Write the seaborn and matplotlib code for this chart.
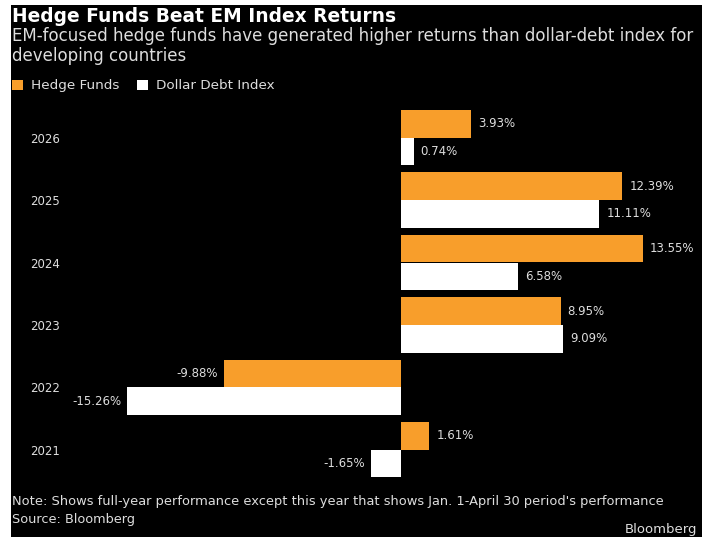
import matplotlib
matplotlib.use("Agg")
import matplotlib.pyplot as plt
import seaborn as sns
import pandas as pd
from matplotlib.patches import Rectangle, Patch

years = ["2026", "2025", "2024", "2023", "2022", "2021"]
hedge_funds = [3.93, 12.39, 13.55, 8.95, -9.88, 1.61]
dollar_debt = [0.74, 11.11, 6.58, 9.09, -15.26, -1.65]
series_names = ["Hedge Funds", "Dollar Debt Index"]
colors = ["#f89e2b", "#ffffff"]

df = pd.DataFrame({
    "Year": years * 2,
    "Return": hedge_funds + dollar_debt,
    "Series": [series_names[0]] * len(years) + [series_names[1]] * len(years),
})

W, H = 702, 537
fig = plt.figure(figsize=(W / 100, H / 100), dpi=100)
fig.patch.set_facecolor("white")
fig.add_artist(Rectangle((11 / W, 0), 1 - 11 / W, (H - 5) / H,
                         transform=fig.transFigure, facecolor="black",
                         edgecolor="none", zorder=0))

ax = fig.add_axes([11 / W, 47 / H, 691 / W, 390 / H])
ax.set_facecolor("black")
sns.barplot(data=df, y="Year", x="Return", hue="Series", order=years,
            hue_order=series_names, palette=colors, orient="h",
            width=0.89, saturation=1, ax=ax, legend=False)

zero_px = 400.5
scale = 17.9
ax.set_xlim((11 - zero_px) / scale, (702 - zero_px) / scale)
ax.set_ylim((490 - 137.7) / 62.4, (100 - 137.7) / 62.4)

for c in ax.containers:
    for bar in c:
        v = bar.get_width()
        yc = bar.get_y() + bar.get_height() / 2
        if v >= 0:
            ax.annotate(f"{v:.2f}%", (v, yc), xytext=(5, 0),
                        textcoords="offset points", ha="left", va="center",
                        color="#dddddd", fontsize=8.5)
        else:
            ax.annotate(f"{v:.2f}%", (v, yc), xytext=(-4, 0),
                        textcoords="offset points", ha="right", va="center",
                        color="#dddddd", fontsize=8.5)

ax.set_xlabel("")
ax.set_ylabel("")
ax.set_xticks([])
for s in ax.spines.values():
    s.set_visible(False)
ax.tick_params(axis="y", length=0, pad=-14, colors="#dddddd", labelsize=8.5)
for lab in ax.get_yticklabels():
    lab.set_horizontalalignment("left")

fig.text(12 / W, 1 - 16 / H, "Hedge Funds Beat EM Index Returns",
         color="white", fontsize=13.4, fontweight="bold", va="center", ha="left")
fig.text(12 / W, 1 - 36 / H,
         "EM-focused hedge funds have generated higher returns than dollar-debt index for",
         color="#dddddd", fontsize=12, va="center", ha="left")
fig.text(12 / W, 1 - 56 / H, "developing countries",
         color="#dddddd", fontsize=12, va="center", ha="left")

handles = [Patch(facecolor=colors[0]), Patch(facecolor=colors[1])]
fig.legend(handles, series_names, loc="center left",
           bbox_to_anchor=(0 / W, 1 - 86 / H), ncol=2, frameon=False,
           handlelength=0.8, handleheight=0.8, handletextpad=0.6,
           columnspacing=1.3, fontsize=9.7, labelcolor="#dddddd")

fig.text(12 / W, 1 - 502 / H,
         "Note: Shows full-year performance except this year that shows Jan. 1-April 30 period's performance",
         color="#dddddd", fontsize=9.4, va="center", ha="left")
fig.text(12 / W, 1 - 520 / H, "Source: Bloomberg",
         color="#dddddd", fontsize=9.3, va="center", ha="left")
fig.text(697 / W, 1 - 529 / H, "Bloomberg",
         color="#dddddd", fontsize=9.5, va="center", ha="right")

fig.savefig("out.png", dpi=100, facecolor=fig.get_facecolor())
